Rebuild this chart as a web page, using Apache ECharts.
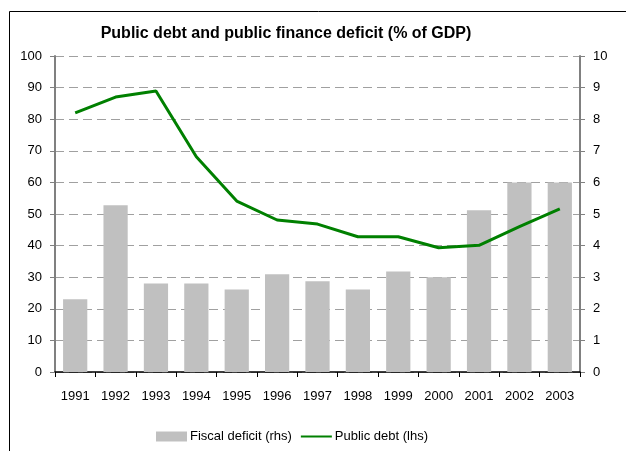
<!DOCTYPE html>
<html><head><meta charset="utf-8">
<script src="https://cdn.jsdelivr.net/npm/echarts@6/dist/echarts.min.js"></script>
<style>html,body{margin:0;padding:0;background:#fff}#c{width:626px;height:451px}</style>
</head><body><div id="c"></div>
<script>
const years = ['1991','1992','1993','1994','1995','1996','1997','1998','1999','2000','2001','2002','2003'];
const fiscalDeficit = [2.3, 5.28, 2.8, 2.8, 2.61, 3.09, 2.87, 2.61, 3.18, 3.0, 5.12, 6.0, 6.0];
const publicDebt = [82.0, 87.0, 88.9, 68.1, 54.1, 48.1, 46.8, 42.8, 42.8, 39.3, 40.1, 46.0, 51.6];
const leftTicks = {min: 0, max: 100, interval: 10};
const rightTicks = {min: 0, max: 10, interval: 1};

const font = 'Liberation Sans, Arial, sans-serif';
const chart = echarts.init(document.getElementById('c'), null, {renderer: 'canvas'});
chart.setOption({
  animation: false,
  backgroundColor: '#fff',
  textStyle: {fontFamily: font},
  title: {
    text: 'Public debt and public finance deficit (% of GDP)',
    left: 281, top: 21, textAlign: 'center',
    textStyle: {fontFamily: font, fontSize: 16, fontWeight: 'bold', color: '#000'}
  },
  graphic: [{
    type: 'rect', left: 7, top: 9, silent: true,
    shape: {width: 700, height: 500},
    style: {fill: 'none', stroke: '#000', lineWidth: 1}
  }],
  legend: {
    bottom: 3, left: 151, itemWidth: 31, itemHeight: 10, itemGap: 8,
    textStyle: {fontFamily: font, fontSize: 13, color: '#000', padding: [0,0,0,-2]},
    data: [
      {name: 'Fiscal deficit (rhs)', icon: 'rect'},
      {name: 'Public debt (lhs)', itemStyle: {opacity: 0}}
    ]
  },
  grid: {left: 55, right: 46, top: 56, bottom: 79},
  xAxis: {
    type: 'category', data: years, boundaryGap: true,
    axisLine: {lineStyle: {color: '#000', width: 1.5}},
    axisTick: {show: true, length: 5, alignWithLabel: false, lineStyle: {color: '#000'}},
    axisLabel: {color: '#000', fontSize: 13, margin: 18, fontFamily: font}
  },
  yAxis: [{
    type: 'value', position: 'left', min: leftTicks.min, max: leftTicks.max, interval: leftTicks.interval,
    axisLine: {show: true, lineStyle: {color: '#808080', width: 2}},
    axisTick: {show: true, length: 5, lineStyle: {color: '#808080'}},
    axisLabel: {color: '#000', fontSize: 13, margin: 13, fontFamily: font},
    splitLine: {show: true, lineStyle: {color: '#a0a0a0', type: [9, 5], width: 1}}
  }, {
    type: 'value', position: 'right', min: rightTicks.min, max: rightTicks.max, interval: rightTicks.interval,
    axisLine: {show: true, lineStyle: {color: '#808080', width: 2}},
    axisTick: {show: true, length: 5, lineStyle: {color: '#808080'}},
    axisLabel: {color: '#000', fontSize: 13, margin: 13, fontFamily: font},
    splitLine: {show: false}
  }],
  series: [{
    name: 'Fiscal deficit (rhs)', type: 'bar', yAxisIndex: 1, data: fiscalDeficit,
    barWidth: '60%', itemStyle: {color: '#c0c0c0'}
  }, {
    name: 'Public debt (lhs)', type: 'line', yAxisIndex: 0, data: publicDebt,
    symbol: 'none', lineStyle: {color: '#008000', width: 3}, itemStyle: {color: '#008000'}
  }]
});
</script></body></html>
